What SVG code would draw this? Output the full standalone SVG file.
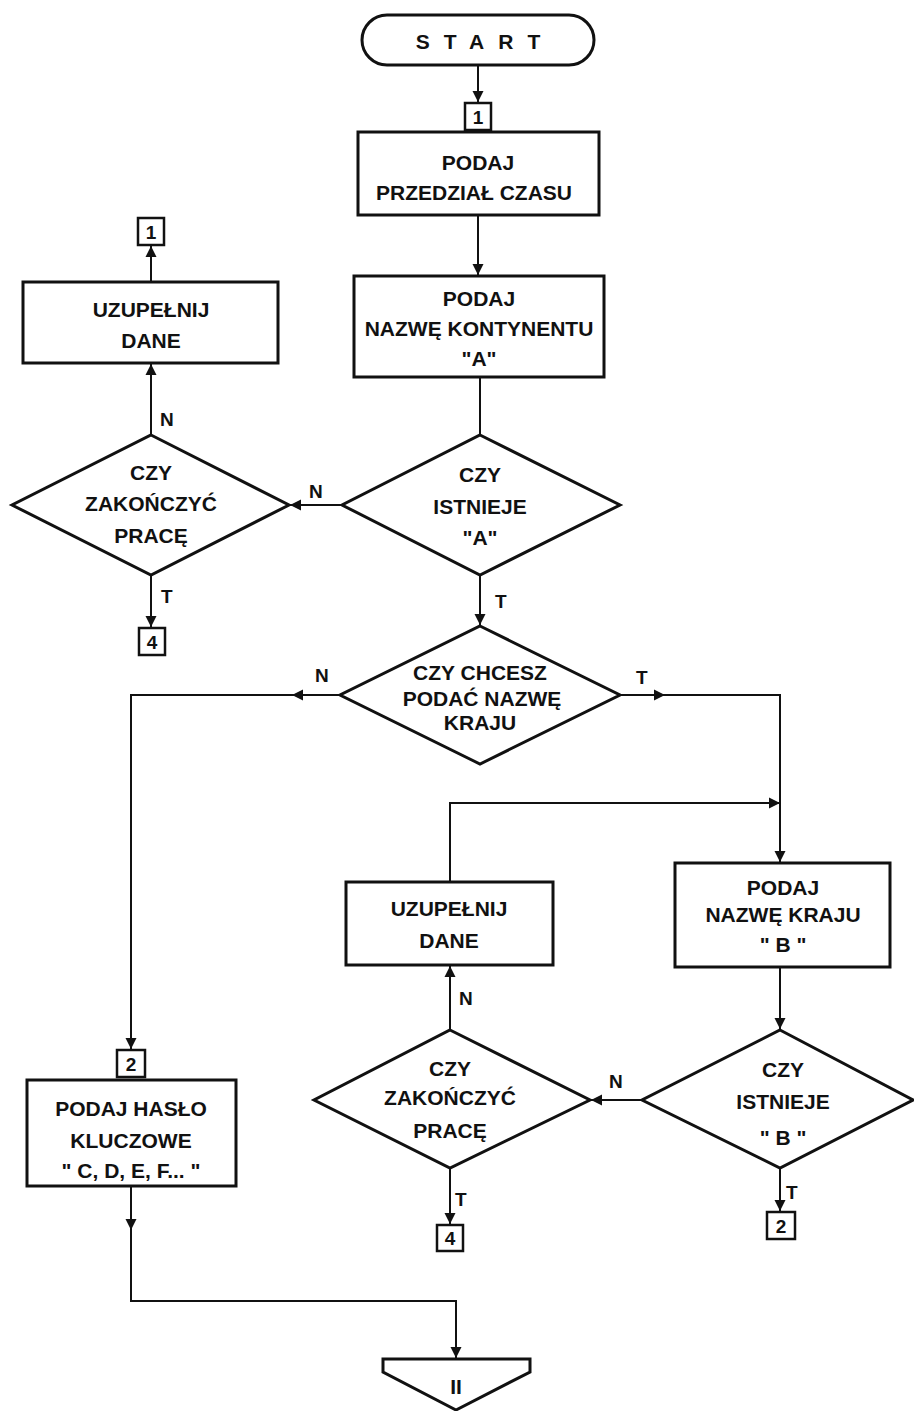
<svg xmlns="http://www.w3.org/2000/svg" width="914" height="1411" viewBox="0 0 914 1411">
<style>
.shape{fill:#fff;stroke:#111;stroke-width:3}
.con{fill:#fff;stroke:#111;stroke-width:2.5}
.ln{fill:none;stroke:#111;stroke-width:2}
.t{font-family:"Liberation Sans",Arial,sans-serif;font-weight:bold;font-size:21px;fill:#111;text-anchor:middle}
.n{font-family:"Liberation Sans",Arial,sans-serif;font-weight:bold;font-size:19px;fill:#111;text-anchor:middle}
.lbl{font-family:"Liberation Sans",Arial,sans-serif;font-weight:bold;font-size:19px;fill:#111}
</style>
<defs>
<marker id="arr" viewBox="0 0 10 10" refX="10" refY="5" markerWidth="11" markerHeight="12" markerUnits="userSpaceOnUse" orient="auto">
<path d="M0,0 L10,5 L0,10 z" fill="#111"/>
</marker>
</defs>
<rect width="914" height="1411" fill="#fff"/>

<g id="connectors">
<path class="ln" d="M478,65 V102" marker-end="url(#arr)"/>
<path class="ln" d="M478,215 V275" marker-end="url(#arr)"/>
<path class="ln" d="M480,377 V435"/>
<path class="ln" d="M342,505 H290" marker-end="url(#arr)"/>
<path class="ln" d="M151,435 V364" marker-end="url(#arr)"/>
<path class="ln" d="M151,282 V246" marker-end="url(#arr)"/>
<path class="ln" d="M151,575 V627" marker-end="url(#arr)"/>
<path class="ln" d="M480,575 V625" marker-end="url(#arr)"/>
<path class="ln" d="M340,695 H292" marker-end="url(#arr)"/>
<path class="ln" d="M294,695 H131 V1049" marker-end="url(#arr)"/>
<path class="ln" d="M620,695 H665" marker-end="url(#arr)"/>
<path class="ln" d="M663,695 H780 V862" marker-end="url(#arr)"/>
<path class="ln" d="M450,882 V803 H780" marker-end="url(#arr)"/>
<path class="ln" d="M780,967 V1029" marker-end="url(#arr)"/>
<path class="ln" d="M642,1100 H591" marker-end="url(#arr)"/>
<path class="ln" d="M450,1030 V966" marker-end="url(#arr)"/>
<path class="ln" d="M450,1168 V1224" marker-end="url(#arr)"/>
<path class="ln" d="M780,1168 V1211" marker-end="url(#arr)"/>
<path class="ln" d="M131,1186 V1230" marker-end="url(#arr)"/>
<path class="ln" d="M131,1228 V1301 H456 V1358" marker-end="url(#arr)"/>
<text class="lbl" x="309" y="498">N</text>
<text class="lbl" x="160" y="426">N</text>
<text class="lbl" x="161" y="603">T</text>
<text class="lbl" x="495" y="608">T</text>
<text class="lbl" x="315" y="682">N</text>
<text class="lbl" x="636" y="684">T</text>
<text class="lbl" x="609" y="1088">N</text>
<text class="lbl" x="459" y="1005">N</text>
<text class="lbl" x="455" y="1206">T</text>
<text class="lbl" x="786" y="1199">T</text>
</g>

<g id="start">
<rect class="shape" x="362" y="15" width="232" height="50" rx="25"/>
<text class="t" x="485" y="49" letter-spacing="14" font-size="22">START</text>
</g>

<g id="conn1-top">
<rect class="con" x="465" y="103" width="26" height="27"/>
<text class="n" x="478" y="124">1</text>
</g>

<g id="podaj-czas">
<rect class="shape" x="358" y="132" width="241" height="83"/>
<text class="t" x="478" y="170">PODAJ</text>
<text class="t" x="474" y="200">PRZEDZIAŁ  CZASU</text>
</g>

<g id="podaj-kontynent">
<rect class="shape" x="354" y="276" width="250" height="101"/>
<text class="t" x="479" y="306">PODAJ</text>
<text class="t" x="479" y="336">NAZWĘ KONTYNENTU</text>
<text class="t" x="479" y="366">"A"</text>
</g>

<g id="istnieje-a">
<polygon class="shape" points="480,435 620,505 480,575 342,505"/>
<text class="t" x="480" y="482">CZY</text>
<text class="t" x="480" y="514">ISTNIEJE</text>
<text class="t" x="480" y="545">"A"</text>
</g>

<g id="zakonczyc-1">
<polygon class="shape" points="151,435 289,505 151,575 12,505"/>
<text class="t" x="151" y="480">CZY</text>
<text class="t" x="151" y="511">ZAKOŃCZYĆ</text>
<text class="t" x="151" y="543">PRACĘ</text>
</g>

<g id="uzupelnij-1">
<rect class="shape" x="23" y="282" width="255" height="81"/>
<text class="t" x="151" y="317">UZUPEŁNIJ</text>
<text class="t" x="151" y="348">DANE</text>
</g>

<g id="conn1-left">
<rect class="con" x="138" y="218" width="26" height="27"/>
<text class="n" x="151" y="239">1</text>
</g>

<g id="conn4-left">
<rect class="con" x="139" y="628" width="26" height="27"/>
<text class="n" x="152" y="649">4</text>
</g>

<g id="chcesz-kraj">
<polygon class="shape" points="480,626 620,695 480,764 340,695"/>
<text class="t" x="480" y="680">CZY CHCESZ</text>
<text class="t" x="482" y="706">PODAĆ  NAZWĘ</text>
<text class="t" x="480" y="730">KRAJU</text>
</g>

<g id="podaj-kraj">
<rect class="shape" x="675" y="863" width="215" height="104"/>
<text class="t" x="783" y="895">PODAJ</text>
<text class="t" x="783" y="922">NAZWĘ  KRAJU</text>
<text class="t" x="783" y="952">" B "</text>
</g>

<g id="uzupelnij-2">
<rect class="shape" x="346" y="882" width="207" height="83"/>
<text class="t" x="449" y="916">UZUPEŁNIJ</text>
<text class="t" x="449" y="948">DANE</text>
</g>

<g id="istnieje-b">
<polygon class="shape" points="780,1030 913,1100 780,1168 642,1100"/>
<text class="t" x="783" y="1077">CZY</text>
<text class="t" x="783" y="1109">ISTNIEJE</text>
<text class="t" x="783" y="1145">" B "</text>
</g>

<g id="zakonczyc-2">
<polygon class="shape" points="450,1030 590,1100 450,1168 314,1100"/>
<text class="t" x="450" y="1076">CZY</text>
<text class="t" x="450" y="1105">ZAKOŃCZYĆ</text>
<text class="t" x="450" y="1138">PRACĘ</text>
</g>

<g id="conn4-bottom">
<rect class="con" x="437" y="1225" width="26" height="26"/>
<text class="n" x="450" y="1245">4</text>
</g>

<g id="conn2-right">
<rect class="con" x="767" y="1212" width="28" height="27"/>
<text class="n" x="781" y="1233">2</text>
</g>

<g id="conn2-left">
<rect class="con" x="117" y="1050" width="28" height="27"/>
<text class="n" x="131" y="1071">2</text>
</g>

<g id="podaj-haslo">
<rect class="shape" x="27" y="1080" width="209" height="106"/>
<text class="t" x="131" y="1116">PODAJ HASŁO</text>
<text class="t" x="131" y="1148">KLUCZOWE</text>
<text class="t" x="131" y="1178">" C, D, E, F... "</text>
</g>

<g id="offpage-ii">
<polygon class="shape" points="383,1359 530,1359 530,1372 456,1410 383,1372"/>
<text class="t" x="456" y="1394">II</text>
</g>
</svg>
